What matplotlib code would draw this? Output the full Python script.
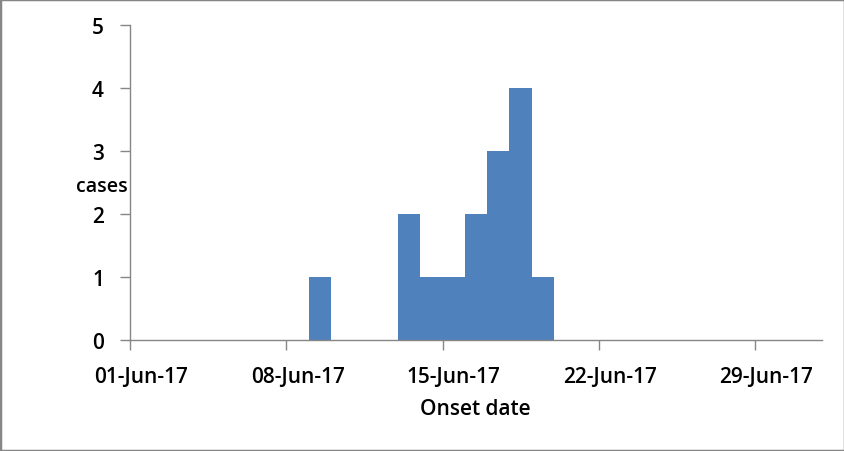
import matplotlib
matplotlib.use("Agg")
import matplotlib.pyplot as plt
import matplotlib.dates as mdates
from matplotlib.patches import Rectangle
import datetime as dt

onset_dates = ["2017-06-09", "2017-06-13", "2017-06-14", "2017-06-15",
               "2017-06-16", "2017-06-17", "2017-06-18", "2017-06-19"]
cases = [1, 2, 1, 1, 2, 3, 4, 1]
tick_dates = ["2017-06-01", "2017-06-08", "2017-06-15", "2017-06-22", "2017-06-29"]

plt.rcParams['font.family'] = ['Open Sans', 'DejaVu Sans']

fig = plt.figure(figsize=(8.45, 4.52), dpi=100)
ax = fig.add_axes([130.3/845, 1-341/452, (821.7-130.3)/845, (341-26)/452])

x = [dt.datetime.strptime(d, "%Y-%m-%d") for d in onset_dates]
ax.bar(x, cases, width=1.0, align='edge', color='#4F81BD', edgecolor='none')

ax.set_xlim(dt.datetime(2017, 6, 1), dt.datetime(2017, 7, 2))
ax.set_ylim(0, 5)
ax.set_yticks(range(0, 6))
ticks = [dt.datetime.strptime(d, "%Y-%m-%d") for d in tick_dates]
ax.set_xticks(ticks)
ax.set_xticklabels([])
# labels sit centred on each day slot (half a day right of the tick mark)
ax.set_xticks([t + dt.timedelta(hours=12) for t in ticks], minor=True)
ax.xaxis.set_minor_formatter(mdates.DateFormatter('%d-%b-%y'))
ax.tick_params(axis='x', which='minor', length=0, labelsize=15, pad=19)

for s in ['top', 'right']:
    ax.spines[s].set_visible(False)
for s in ['left', 'bottom']:
    ax.spines[s].set_color('#868686')
    ax.spines[s].set_linewidth(1.0)
ax.tick_params(axis='both', which='major', direction='out', length=7, width=1.0,
               color='#868686', labelsize=15)
ax.tick_params(axis='y', pad=12)
for lab in ax.get_xticklabels(minor=True) + ax.get_yticklabels():
    lab.set_fontweight('semibold')

fig.text(475/845, 1-410/452, 'Onset date', fontsize=15, fontweight='semibold',
         ha='center', va='center')
fig.text(102/845, 1-187/452, 'cases', fontsize=14, fontweight='semibold',
         ha='center', va='center')

fig.patches.append(Rectangle((0, 0), 1, 1, transform=fig.transFigure, fill=False,
                             edgecolor='#868686', linewidth=2.5))

fig.savefig('out.png', dpi=100)
